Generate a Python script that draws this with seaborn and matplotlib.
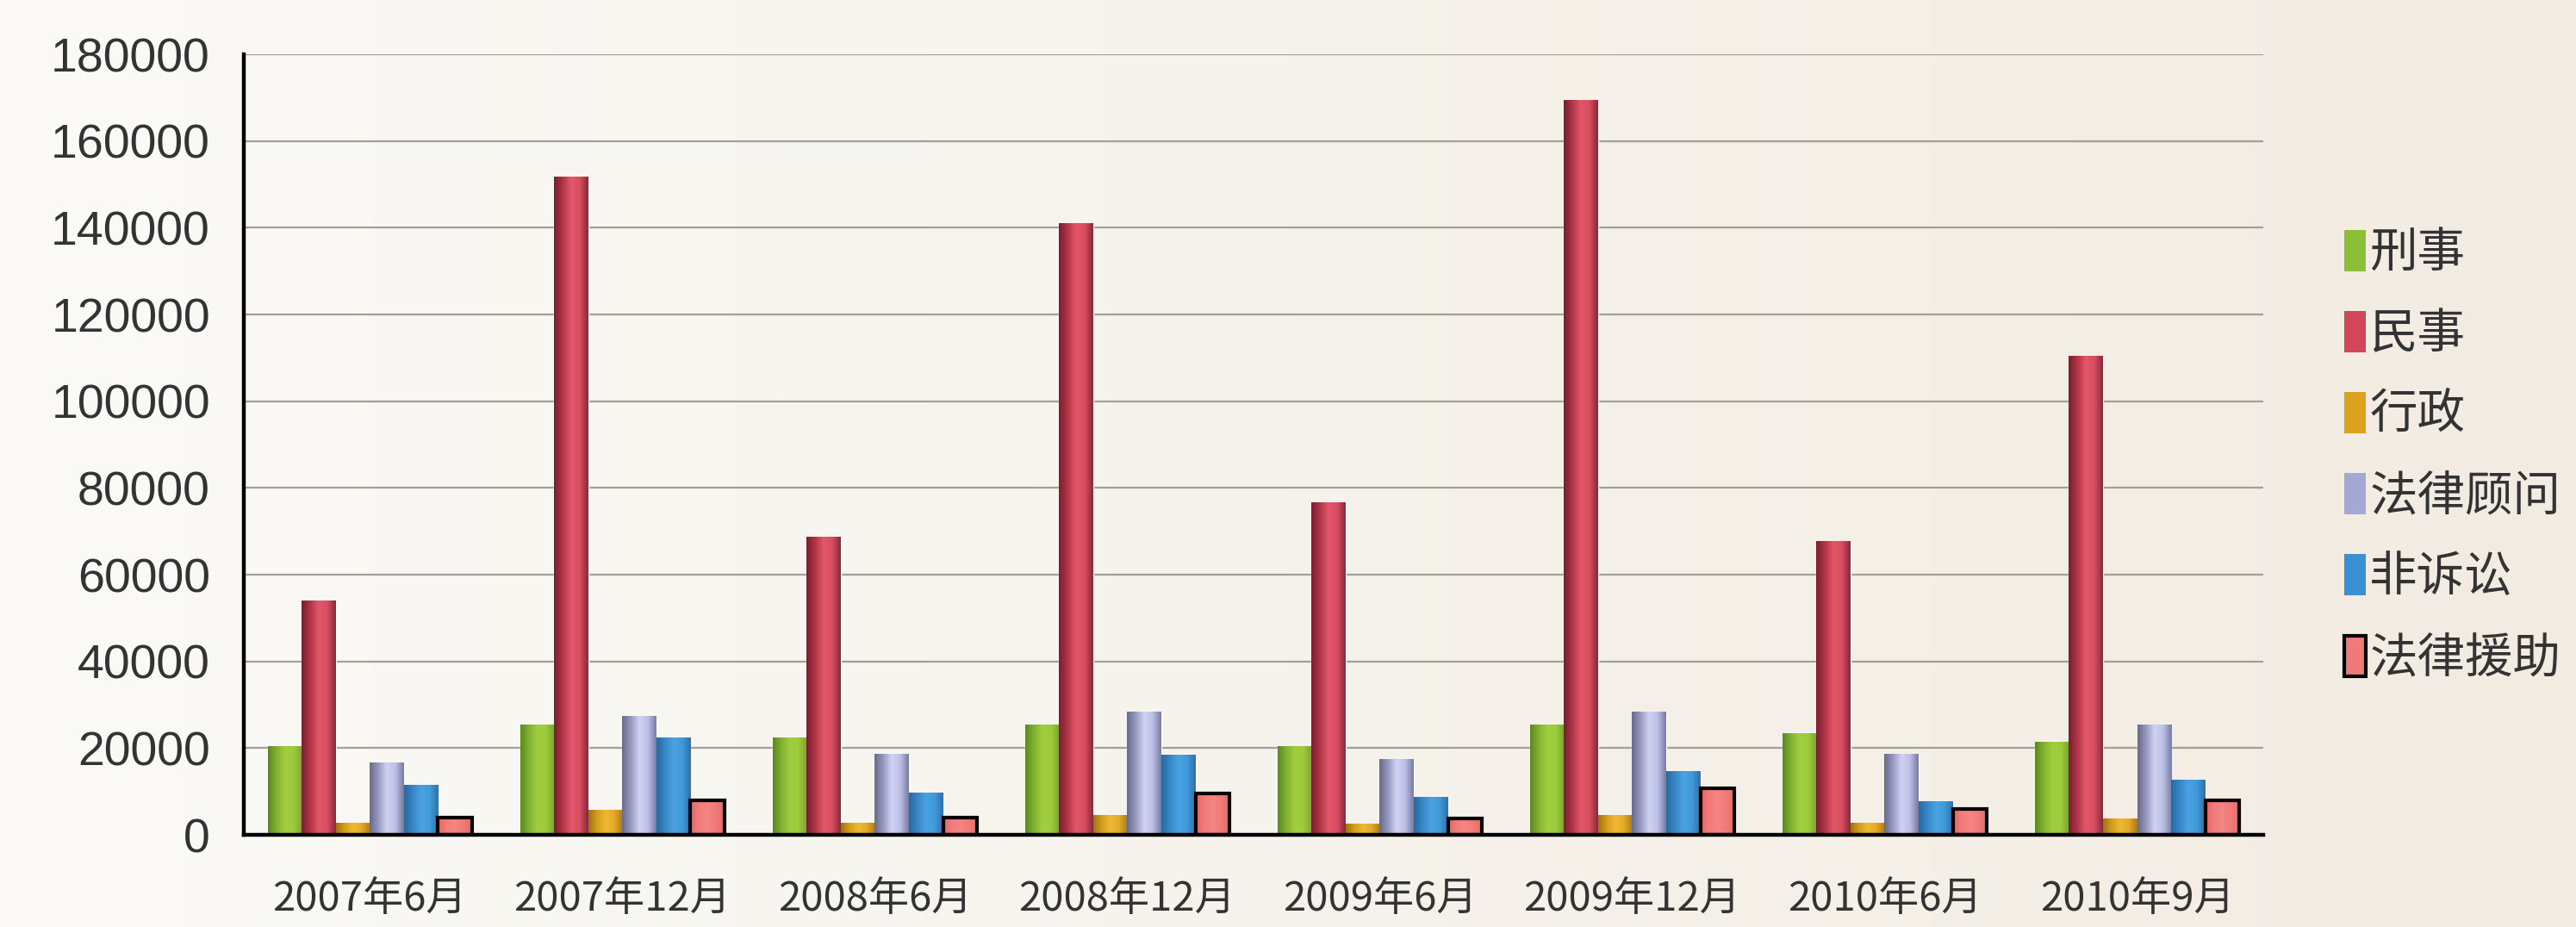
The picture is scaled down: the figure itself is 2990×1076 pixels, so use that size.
import numpy as np
import pandas as pd
import matplotlib
matplotlib.use("Agg")
import matplotlib.pyplot as plt
from matplotlib.colors import LinearSegmentedColormap
from matplotlib.patches import Patch
import seaborn as sns

# data
periods = ["2007年6月", "2007年12月", "2008年6月", "2008年12月",
           "2009年6月", "2009年12月", "2010年6月", "2010年9月"]
categories = ["刑事", "民事", "行政", "法律顾问", "非诉讼", "法律援助"]

criminal = [20400, 25400, 22400, 25300, 20300, 25300, 23400, 21400]
civil = [53900, 151600, 68700, 140900, 76600, 169400, 67600, 110300]
administrative = [2600, 5600, 2600, 4500, 2500, 4500, 2600, 3600]
counsel = [16500, 27400, 18500, 28300, 17400, 28300, 18500, 25400]
non_litigation = [11500, 22400, 9600, 18300, 8600, 14700, 7600, 12700]
legal_aid = [3900, 8000, 3900, 9600, 3800, 10700, 5900, 7900]

y_ticks = list(range(0, 180001, 20000))

series = dict(zip(categories, [criminal, civil, administrative,
                               counsel, non_litigation, legal_aid]))
df = pd.DataFrame([
    {"period": p, "type": c, "value": v}
    for c, vals in series.items() for p, v in zip(periods, vals)
])

# flat colours (legend) and cylinder-like shading across each bar
main_colors = ["#8cbf38", "#d2465a", "#dba21f", "#a4a8d4", "#3b8fd3", "#f07a78"]
shades = [
    ["#5d8722", "#80b232", "#a2cd3e", "#9ccb3c", "#7ca42e"],
    ["#76202f", "#b03446", "#e2586a", "#d84e60", "#86283a"],
    ["#a07210", "#d49c1e", "#f0b832", "#e2aa28", "#aa7c16"],
    ["#686a8a", "#9598bf", "#cfd2f2", "#bcc0e6", "#787ba0"],
    ["#2a689e", "#3787c6", "#4aa2e2", "#409ada", "#2e70aa"],
    ["#e46666", "#f27c7a", "#f58482", "#f07a78", "#e46a68"],
]

sns.set_theme(style="white")
plt.rcParams["font.family"] = ["Noto Sans CJK SC", "DejaVu Sans"]

fig = plt.figure(figsize=(29.9, 10.76), dpi=100)

# warm paper background
bg = fig.add_axes([0, 0, 1, 1], zorder=-1)
bg_cmap = LinearSegmentedColormap.from_list("bg", ["#fbfaf7", "#f6f3ec", "#f2ebe2"])
bg.imshow(np.linspace(0, 1, 256).reshape(1, -1), cmap=bg_cmap, aspect="auto",
          extent=[0, 1, 0, 1])
bg.set_axis_off()

ax = fig.add_axes([0.0946, 0.0994, 0.7840, 0.8420])
ax.set_facecolor("none")

sns.barplot(data=df, x="period", y="value", hue="type", order=periods,
            hue_order=categories, palette=main_colors, width=0.81,
            saturation=1, errorbar=None, legend=False, ax=ax)

grad = np.linspace(0, 1, 256).reshape(1, -1)
for container, cat, cols in zip(ax.containers, categories, shades):
    cmap = LinearSegmentedColormap.from_list(cat, cols)
    for bar in container:
        x0, w, h = bar.get_x(), bar.get_width(), bar.get_height()
        ax.imshow(grad, cmap=cmap, aspect="auto", interpolation="bicubic",
                  extent=[x0, x0 + w, 0, h], zorder=1.1)
        if cat == "法律援助":
            bar.set_facecolor("none")
            bar.set_edgecolor("black")
            bar.set_linewidth(3)
            bar.set_zorder(1.2)

ax.set_xlim(-0.5, len(periods) - 0.5)
ax.set_ylim(0, 180000)
ax.set_xlabel("")
ax.set_ylabel("")

ax.set_axisbelow(True)
ax.yaxis.grid(True, color="#a39f97", linewidth=1.6)
ax.xaxis.grid(False)

for side in ["top", "right"]:
    ax.spines[side].set_visible(False)
for side in ["left", "bottom"]:
    ax.spines[side].set_color("black")
    ax.spines[side].set_linewidth(3.2)

ax.set_yticks(y_ticks)
ax.set_yticklabels([str(v) for v in y_ticks], family="Liberation Sans",
                   fontsize=40, color="#333333")
ax.tick_params(axis="y", direction="in", length=11, width=3, pad=28,
               color="black")

ax.set_xticks(range(len(periods)))
ax.set_xticklabels(periods, fontsize=34, color="#333333")
ax.set_xticks(np.arange(0.5, len(periods), 1), minor=True)
ax.tick_params(axis="x", which="major", length=0, pad=36)
ax.tick_params(axis="x", which="minor", direction="in", length=19, width=3,
               color="black")

handles = [Patch(facecolor=c, edgecolor="none") for c in main_colors[:-1]]
handles.append(Patch(facecolor=main_colors[-1], edgecolor="black", linewidth=3))
fig.legend(handles, categories, loc="center left", bbox_to_anchor=(0.9100, 0.508),
           frameon=False, fontsize=40, handlelength=0.45, handleheight=0.95,
           handletextpad=0.08, labelspacing=0.66, borderpad=0, borderaxespad=0,
           labelcolor="#333333")

fig.savefig("out.png", dpi=100)
plt.close(fig)
